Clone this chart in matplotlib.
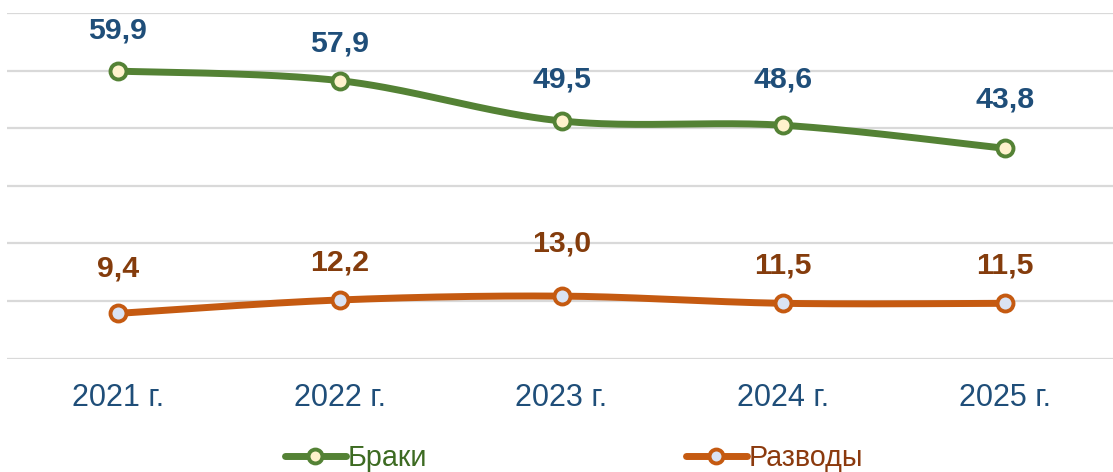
import numpy as np
import matplotlib
matplotlib.use("Agg")
import matplotlib.pyplot as plt
from matplotlib.lines import Line2D

years = ["2021 г.", "2022 г.", "2023 г.", "2024 г.", "2025 г."]
marriages = [59.9, 57.9, 49.5, 48.6, 43.8]
divorces = [9.4, 12.2, 13.0, 11.5, 11.5]
series_names = ["Браки", "Разводы"]

plt.rcParams['font.family'] = ['Liberation Sans', 'DejaVu Sans']

fig = plt.figure(figsize=(11.13, 4.72), dpi=100)
ax = fig.add_axes([7/1113, 1 - 358.5/472, 1109/1113, (358.5 - 13)/472])
ax.set_xlim(-0.5, len(years) - 0.5)
ax.set_ylim(0, 72)
ax.set_yticks(np.arange(0, 73, 12))
ax.yaxis.grid(True, color="#D9D9D9", linewidth=1.6)
ax.set_axisbelow(True)
for s in ax.spines.values():
    s.set_visible(False)
ax.tick_params(axis='y', left=False, labelleft=False)
ax.tick_params(axis='x', bottom=False, labelsize=22, labelcolor="#1F4E79", pad=14)
ax.set_xticks(range(len(years)))
ax.set_xticklabels(years)


def smooth(xs, ys, n=40):
    xs = np.asarray(xs, float); ys = np.asarray(ys, float)
    px = np.concatenate([[xs[0]], xs, [xs[-1]]])
    py = np.concatenate([[ys[0]], ys, [ys[-1]]])
    ox, oy = [], []
    t = np.linspace(0, 1, n)
    for i in range(1, len(px) - 2):
        p0 = np.array([px[i], py[i]]); p3 = np.array([px[i+1], py[i+1]])
        c1 = p0 + (np.array([px[i+1], py[i+1]]) - np.array([px[i-1], py[i-1]])) / 6
        c2 = p3 - (np.array([px[i+2], py[i+2]]) - np.array([px[i], py[i]])) / 6
        b = ((1-t)**3)[:, None]*p0 + (3*(1-t)**2*t)[:, None]*c1 + (3*(1-t)*t**2)[:, None]*c2 + (t**3)[:, None]*p3
        ox.extend(b[:, 0]); oy.extend(b[:, 1])
    return ox, oy

x = np.arange(len(years))
styles = [
    dict(data=marriages, line="#548235", face="#FFF2CC", label="#1F4E79", text="#3D6B22",
         offs=[29.5, 27, 30, 33, 35]),
    dict(data=divorces, line="#C55A11", face="#DAE3F3", label="#843C0C", text="#8B3A0E",
         offs=[32, 27, 38, 27, 27]),
]
handles = []
for st, name in zip(styles, series_names):
    sx, sy = smooth(x, st["data"])
    ax.plot(sx, sy, color=st["line"], lw=5, solid_capstyle='round', zorder=3)
    ax.plot(x, st["data"], ls='none', marker='o', ms=11.5, mfc=st["face"], mec=st["line"], mew=2.8, zorder=4)
    for xi, v, o in zip(x, st["data"], st["offs"]):
        ax.annotate(f"{v:.1f}".replace('.', ','), (xi, v), xytext=(0, o), textcoords='offset points',
                    ha='center', va='center', fontsize=21.8, fontweight='bold', color=st["label"])
    handles.append(Line2D([], [], color=st["line"], lw=5, marker='o', ms=10, mfc=st["face"],
                          mec=st["line"], mew=2.8, solid_capstyle='round'))

leg = fig.legend(handles, series_names, loc='center', bbox_to_anchor=(0.516, 1 - 458/472), ncol=2,
                 frameon=False, fontsize=20.7, handlelength=2.1, handletextpad=0.08, columnspacing=9.0)
for t, st in zip(leg.get_texts(), styles):
    t.set_color(st["text"])

fig.savefig("out.png", dpi=100)
